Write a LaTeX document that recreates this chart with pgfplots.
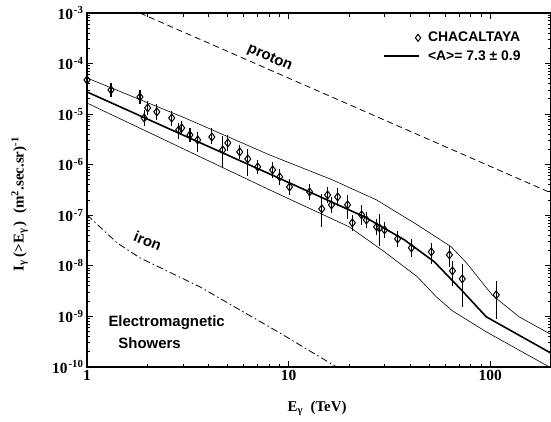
\documentclass[border=0pt]{standalone}
\usepackage{fontspec}
\setmainfont{Liberation Serif}
\newfontfamily\hv{Liberation Sans}
\usepackage{pgfplots}
\usepackage{pgfplotstable}
\pgfplotsset{compat=1.18}

% Chacaltaya points: x, y, relative error up / down
\pgfplotstableread{
x     y        ep     em
1.0   4.74e-5  0.146  0.128
1.315 3.01e-5  0.146  0.128
1.83  2.19e-5  0.146  0.128
1.92  8.41e-6  0.2    0.167
2.00  1.33e-5  0.146  0.128
2.22  1.11e-5  0.2    0.167
2.63  8.41e-6  0.146  0.167
2.85  4.87e-6  0.146  0.203
2.95  5.34e-6  0.146  0.128
3.24  3.88e-6  0.146  0.128
3.54  3.09e-6  0.2    0.305
4.16  3.54e-6  0.255  0.128
4.71  1.96e-6  0.576  0.447
4.99  2.70e-6  0.2    0.167
5.72  1.79e-6  0.146  0.128
6.27  1.30e-6  0.314  0.447
7.02  9.05e-7  0.146  0.128
8.33  7.89e-7  0.2    0.167
9.03  5.74e-7  0.2    0.167
10.1  3.64e-7  0.2    0.167
12.7  2.90e-7  0.2    0.167
14.6  1.34e-7  0.65   0.471
15.6  2.53e-7  0.2    0.167
16.3  1.61e-7  0.2    0.167
17.5  2.31e-7  0.255  0.203
19.6  1.61e-7  0.314  0.365
20.7  7.08e-8  0.2    0.167
23.0  1.02e-7  0.314  0.239
24.3  8.11e-8  0.2    0.167
27.3  5.90e-8  0.2    0.167
28.2  5.64e-8  0.576  0.471
29.9  5.14e-8  0.2    0.167
34.7  3.42e-8  0.2    0.167
40.6  2.27e-8  0.255  0.203
51.0  1.89e-8  0.255  0.305
62.7  1.65e-8  0.255  0.305
64.9  7.96e-9  0.314  0.394
72.6  5.53e-9  0.65   0.664
107   2.67e-9  0.576  0.598
}\chacaltaya

\newcommand\dec[1]{10\kern1bp\textsuperscript{#1}}

\begin{document}
\begin{tikzpicture}
\begin{axis}[
  scale only axis, width=464bp, height=354bp,
  xmode=log, ymode=log,
  xmin=1, xmax=200, ymin=1e-10, ymax=1e-3,
  xtick={1,10,100}, xticklabels={1,10,100},
  minor xtick={2,3,4,5,6,7,8,9,20,30,40,50,60,70,80,90},
  ytick={1e-10,1e-9,1e-8,1e-7,1e-6,1e-5,1e-4,1e-3},
  yticklabels={\dec{-10},\dec{-9},\dec{-8},\dec{-7},\dec{-6},\dec{-5},\dec{-4},\dec{-3}},
  minor ytick={2e-10,3e-10,4e-10,5e-10,6e-10,7e-10,8e-10,9e-10,
    2e-9,3e-9,4e-9,5e-9,6e-9,7e-9,8e-9,9e-9,
    2e-8,3e-8,4e-8,5e-8,6e-8,7e-8,8e-8,9e-8,
    2e-7,3e-7,4e-7,5e-7,6e-7,7e-7,8e-7,9e-7,
    2e-6,3e-6,4e-6,5e-6,6e-6,7e-6,8e-6,9e-6,
    2e-5,3e-5,4e-5,5e-5,6e-5,7e-5,8e-5,9e-5,
    2e-4,3e-4,4e-4,5e-4,6e-4,7e-4,8e-4,9e-4},
  tick label style={font=\fontsize{15.5}{15.5}\selectfont\bfseries},
  major tick length=6bp, minor tick length=3.5bp,
  every tick/.style={black, line width=1bp},
  axis line style={line width=1.2bp},
  xlabel={E\textsubscript{γ}\ \ (TeV)},
  ylabel={I\textsubscript{γ}\,(>E\textsubscript{γ}\,)\ \ (m\textsuperscript{2}.sec.sr)\textsuperscript{-1}},
  label style={font=\fontsize{15}{15}\selectfont\bfseries},
  xlabel style={at={(axis description cs:0.496,-0.116)}, anchor=center},
  ylabel style={at={(axis description cs:-0.145,0.46)}, anchor=center},
  legend style={at={(axis description cs:0.638,0.952)}, anchor=north west,
    draw=none, fill=none, inner sep=0pt, row sep=3bp,
    font=\hv\bfseries\fontsize{14}{14}\selectfont, cells={anchor=west}},
]
% data
\addplot[only marks, mark=diamond, mark size=4bp,
  mark options={fill=white, line width=1bp},
  legend image code/.code={\path[draw=none] (0bp,0bp) -- (42bp,0bp);
    \draw[black, mark=diamond, mark size=3.5bp, mark options={fill=white, line width=1bp}]
      plot coordinates {(34bp,0bp)};},
  error bars/.cd, y dir=both, y explicit relative,
  error bar style={line width=1.2bp},
  error mark options={line width=1.2bp, mark size=4bp}]
  table[x=x, y=y, y error plus=ep, y error minus=em]{\chacaltaya};
\addlegendentry{CHACALTAYA}
% model: central curve and band
\addplot[black, line width=1.6bp,
  legend image code/.code={\draw[black, line width=1.6bp] (0bp,0bp) -- (35bp,0bp);
    \path[draw=none] (35bp,0bp) -- (42bp,0bp);}]
  coordinates {
  (1,2.75e-5) (10.1,4.37e-7) (23.8,9.29e-8) (37.5,3.27e-8) (52.8,1.20e-8)
  (71.8,3.36e-9) (95.5,9.82e-10) (200,1.88e-10)};
\addlegendentry{<A>= 7.3 ± 0.9}
\addplot[black, line width=0.6bp, forget plot] coordinates {
  (1,5.19e-5) (3.06,8.41e-6) (8.05,1.56e-6) (16.5,5.01e-7) (27.3,2.01e-7)
  (43.5,6.46e-8) (64.1,2.37e-8) (76.1,1.15e-8) (102,2.67e-9) (139,9.82e-10) (200,4.4e-10)};
\addplot[black, line width=0.6bp, forget plot] coordinates {
  (1,1.66e-5) (8.05,3.18e-7) (20.0,5.90e-8) (29.9,1.89e-8) (43.5,6.06e-9)
  (54.0,2.44e-9) (64.9,1.29e-9) (95.5,4.96e-10) (200,9.6e-11)};
% proton and iron
\addplot[black, line width=0.8bp, dash pattern=on 6bp off 4bp, forget plot] coordinates {
  (1.83,1e-3) (200,2.77e-7)};
\addplot[black, line width=0.8bp, dash pattern=on 7bp off 3bp on 1.5bp off 3bp, forget plot] coordinates {
  (1,1.02e-7) (1.41,2.85e-8) (1.83,1.44e-8) (3.63,3.85e-9) (9.02,4.74e-10) (17.3,1e-10)};
\begin{scope}[font=\hv\bfseries\fontsize{15}{15}\selectfont]
\node[rotate=-24] at (axis cs:8.05,1.29e-4) {proton};
\node[rotate=-22] at (axis cs:2.0,3.12e-8) {iron};
\node[anchor=west] at (axis cs:1.228,7.48e-10) {Electromagnetic};
\node[anchor=west] at (axis cs:1.376,3.0e-10) {Showers};
\end{scope}
\end{axis}
\pgfresetboundingbox
\path[use as bounding box] (-87bp,-55bp) rectangle (464bp,367bp);
\end{tikzpicture}
\end{document}
